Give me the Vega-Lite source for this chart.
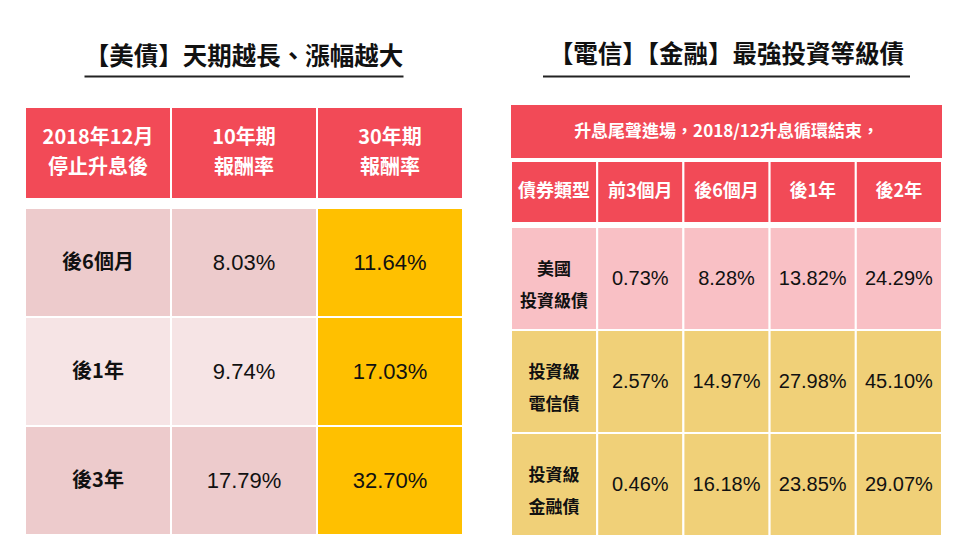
{
  "$schema": "https://vega.github.io/schema/vega-lite/v6.json",
  "background": "white",
  "padding": {"left": 24, "top": 30, "right": 0, "bottom": 0},
  "config": {"view": {"stroke": null}},
  "datasets": {
    "leftHead": [
      {"col": "期間", "label": "2018年12月\n停止升息後"},
      {"col": "10年期", "label": "10年期\n報酬率"},
      {"col": "30年期", "label": "30年期\n報酬率"}
    ],
    "leftBody": [
      {"row": "後6個月", "col": "期間", "value": null},
      {"row": "後6個月", "col": "10年期", "value": 0.0803},
      {"row": "後6個月", "col": "30年期", "value": 0.1164},
      {"row": "後1年", "col": "期間", "value": null},
      {"row": "後1年", "col": "10年期", "value": 0.0974},
      {"row": "後1年", "col": "30年期", "value": 0.1703},
      {"row": "後3年", "col": "期間", "value": null},
      {"row": "後3年", "col": "10年期", "value": 0.1779},
      {"row": "後3年", "col": "30年期", "value": 0.3270}
    ],
    "rightTitle": [{"label": "升息尾聲進場，2018/12升息循環結束，"}],
    "rightHead": [
      {"col": "債券類型"},
      {"col": "前3個月"},
      {"col": "後6個月"},
      {"col": "後1年"},
      {"col": "後2年"}
    ],
    "rightBody": [
      {"row": "美國\n投資級債", "col": "債券類型", "value": null},
      {"row": "美國\n投資級債", "col": "前3個月", "value": 0.0073},
      {"row": "美國\n投資級債", "col": "後6個月", "value": 0.0828},
      {"row": "美國\n投資級債", "col": "後1年", "value": 0.1382},
      {"row": "美國\n投資級債", "col": "後2年", "value": 0.2429},
      {"row": "投資級\n電信債", "col": "債券類型", "value": null},
      {"row": "投資級\n電信債", "col": "前3個月", "value": 0.0257},
      {"row": "投資級\n電信債", "col": "後6個月", "value": 0.1497},
      {"row": "投資級\n電信債", "col": "後1年", "value": 0.2798},
      {"row": "投資級\n電信債", "col": "後2年", "value": 0.4510},
      {"row": "投資級\n金融債", "col": "債券類型", "value": null},
      {"row": "投資級\n金融債", "col": "前3個月", "value": 0.0046},
      {"row": "投資級\n金融債", "col": "後6個月", "value": 0.1618},
      {"row": "投資級\n金融債", "col": "後1年", "value": 0.2385},
      {"row": "投資級\n金融債", "col": "後2年", "value": 0.2907}
    ]
  },
  "spacing": 46,
  "hconcat": [
    {
      "spacing": 28,
      "center": true,
      "vconcat": [
        {
          "width": 319,
          "height": 48,
          "data": {"values": [{"title": "【美債】天期越長、漲幅越大"}]},
          "layer": [
            {
              "mark": {"type": "text", "font": "Noto Sans CJK TC", "fontWeight": "bold", "fontSize": 24.5, "color": "#111111", "baseline": "middle"},
              "encoding": {
                "text": {"field": "title"},
                "y": {"datum": 0.427, "type": "quantitative", "scale": {"domain": [0, 1]}, "axis": null}
              }
            },
            {
              "mark": {"type": "rule", "color": "#222222", "strokeWidth": 2},
              "encoding": {
                "y": {"datum": 0.03, "type": "quantitative", "scale": {"domain": [0, 1]}, "axis": null}
              }
            }
          ]
        },
        {
          "spacing": 7,
          "vconcat": [
            {
              "width": 438,
              "height": 92,
              "data": {"name": "leftHead"},
              "encoding": {
                "x": {"field": "col", "type": "nominal", "sort": null, "axis": null, "scale": {"paddingInner": 0, "paddingOuter": 0}},
                "y": {"datum": "header", "type": "nominal", "axis": null, "scale": {"paddingInner": 0, "paddingOuter": 0}}
              },
              "layer": [
                {"mark": {"type": "rect", "fill": "#F24A57", "stroke": "white", "strokeWidth": 2}},
                {
                  "mark": {"type": "text", "color": "white", "fontSize": 20, "fontWeight": "bold", "font": "Noto Sans CJK TC", "lineBreak": "\n", "lineHeight": 30, "baseline": "middle", "dy": -15},
                  "encoding": {"text": {"field": "label"}}
                }
              ]
            },
            {
              "width": 438,
              "height": 327,
              "data": {"name": "leftBody"},
              "encoding": {
                "x": {"field": "col", "type": "nominal", "sort": null, "axis": null, "scale": {"paddingInner": 0, "paddingOuter": 0}},
                "y": {"field": "row", "type": "nominal", "sort": null, "axis": null, "scale": {"paddingInner": 0, "paddingOuter": 0}}
              },
              "layer": [
                {
                  "mark": {"type": "rect", "stroke": "white", "strokeWidth": 2},
                  "encoding": {
                    "fill": {
                      "condition": [
                        {"test": "datum.col === '30年期'", "value": "#FFC000"},
                        {"test": "datum.row === '後1年'", "value": "#F6E4E5"}
                      ],
                      "value": "#EDCBCC"
                    }
                  }
                },
                {
                  "transform": [{"filter": "datum.col === '期間'"}],
                  "mark": {"type": "text", "color": "#111111", "fontSize": 20, "fontWeight": "bold", "font": "Noto Sans CJK TC", "baseline": "middle"},
                  "encoding": {"text": {"field": "row"}}
                },
                {
                  "transform": [{"filter": "datum.col !== '期間'"}],
                  "mark": {"type": "text", "color": "#111111", "fontSize": 22, "font": "Liberation Sans", "baseline": "middle"},
                  "encoding": {"text": {"field": "value", "type": "quantitative", "format": ".2%"}}
                }
              ]
            }
          ]
        }
      ]
    },
    {
      "spacing": 27,
      "center": true,
      "vconcat": [
        {
          "width": 367,
          "height": 48,
          "data": {"values": [{"title": "【電信】【金融】最強投資等級債"}]},
          "layer": [
            {
              "mark": {"type": "text", "font": "Noto Sans CJK TC", "fontWeight": "bold", "fontSize": 24.5, "color": "#111111", "baseline": "middle"},
              "encoding": {
                "text": {"field": "title"},
                "y": {"datum": 0.458, "type": "quantitative", "scale": {"domain": [0, 1]}, "axis": null}
              }
            },
            {
              "mark": {"type": "rule", "color": "#222222", "strokeWidth": 2},
              "encoding": {
                "y": {"datum": 0.03, "type": "quantitative", "scale": {"domain": [0, 1]}, "axis": null}
              }
            }
          ]
        },
        {
          "spacing": 2,
          "vconcat": [
            {
              "width": 431,
              "height": 53,
              "data": {"name": "rightTitle"},
              "encoding": {
                "x": {"field": "label", "type": "nominal", "axis": null, "scale": {"paddingInner": 0, "paddingOuter": 0}},
                "y": {"field": "label", "type": "nominal", "axis": null, "scale": {"paddingInner": 0, "paddingOuter": 0}}
              },
              "layer": [
                {"mark": {"type": "rect", "fill": "#F24A57"}},
                {
                  "mark": {"type": "text", "color": "white", "fontSize": 17, "fontWeight": "bold", "font": "Noto Sans CJK TC", "baseline": "middle"},
                  "encoding": {"text": {"field": "label"}}
                }
              ]
            },
            {
              "width": 431,
              "height": 62,
              "data": {"name": "rightHead"},
              "encoding": {
                "x": {"field": "col", "type": "nominal", "sort": null, "axis": null, "scale": {"paddingInner": 0, "paddingOuter": 0}},
                "y": {"datum": "header", "type": "nominal", "axis": null, "scale": {"paddingInner": 0, "paddingOuter": 0}}
              },
              "layer": [
                {"mark": {"type": "rect", "fill": "#F24A57", "stroke": "white", "strokeWidth": 2}},
                {
                  "mark": {"type": "text", "color": "white", "fontSize": 18, "fontWeight": "bold", "font": "Noto Sans CJK TC", "baseline": "middle"},
                  "encoding": {"text": {"field": "col"}}
                }
              ]
            },
            {
              "width": 431,
              "height": 309,
              "data": {"name": "rightBody"},
              "encoding": {
                "x": {"field": "col", "type": "nominal", "sort": null, "axis": null, "scale": {"paddingInner": 0, "paddingOuter": 0}},
                "y": {"field": "row", "type": "nominal", "sort": null, "axis": null, "scale": {"paddingInner": 0, "paddingOuter": 0}}
              },
              "layer": [
                {
                  "mark": {"type": "rect", "stroke": "white", "strokeWidth": 2},
                  "encoding": {
                    "fill": {
                      "condition": {"test": "indexof(datum.row, '美國') >= 0", "value": "#F9C0C5"},
                      "value": "#F0D078"
                    }
                  }
                },
                {
                  "transform": [{"filter": "datum.col === '債券類型'"}],
                  "mark": {"type": "text", "color": "#111111", "fontSize": 17, "fontWeight": "bold", "font": "Noto Sans CJK TC", "lineBreak": "\n", "lineHeight": 32, "baseline": "middle", "dy": -9},
                  "encoding": {"text": {"field": "row"}}
                },
                {
                  "transform": [{"filter": "datum.col !== '債券類型'"}],
                  "mark": {"type": "text", "color": "#111111", "fontSize": 20, "font": "Liberation Sans", "baseline": "middle"},
                  "encoding": {"text": {"field": "value", "type": "quantitative", "format": ".2%"}}
                }
              ]
            }
          ]
        }
      ]
    }
  ]
}
